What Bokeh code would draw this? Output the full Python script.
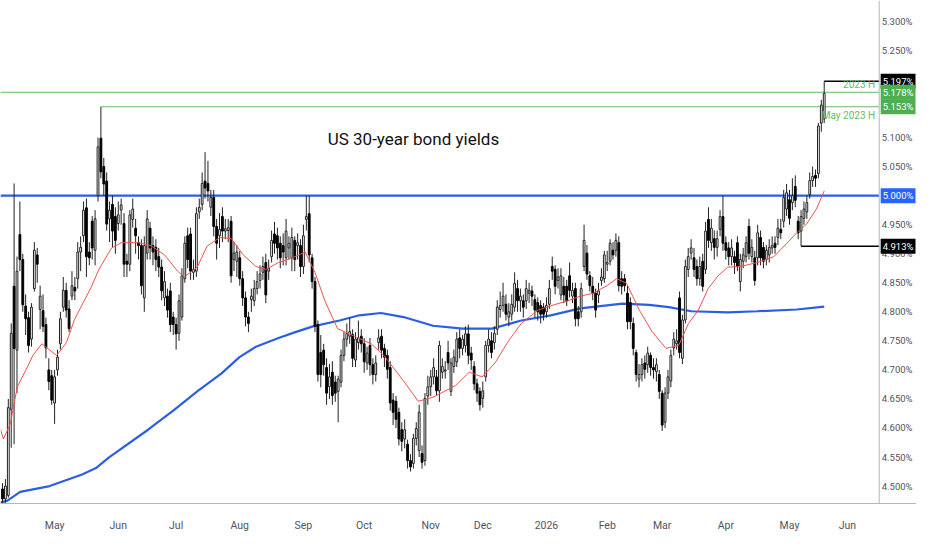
from bokeh.plotting import figure
from bokeh.models import Range1d, FixedTicker, Label, Span, ColumnDataSource
from bokeh.core.properties import value
from bokeh.embed import file_html
from bokeh.resources import INLINE

# ---------------- data (daily candles, % yield) ----------------
opens = [4.495,4.478,4.484,4.632,4.844,4.734,4.933,4.890,4.810,4.790,4.753,4.840,4.898,4.804,4.802,4.778,4.700,4.690,4.643,4.700,
4.745,4.808,4.837,4.805,4.827,4.842,4.857,4.903,4.931,4.979,4.903,4.956,4.906,5.000,5.099,5.050,5.025,4.960,4.985,4.964,
4.952,4.975,4.952,4.887,4.882,4.959,4.944,4.919,4.914,4.824,4.901,4.944,4.914,4.911,4.895,4.877,4.824,4.827,4.836,4.791,
4.778,4.763,4.791,4.857,4.931,4.934,4.868,4.870,4.972,4.985,5.025,5.021,4.980,4.997,4.947,4.931,4.964,4.939,4.940,4.956,
4.890,4.887,4.893,4.857,4.824,4.791,4.821,4.819,4.840,4.854,4.868,4.885,4.870,4.895,4.934,4.931,4.918,4.914,4.893,4.910,
4.893,4.923,4.914,4.914,4.878,4.959,4.969,4.893,4.852,4.778,4.730,4.734,4.704,4.671,4.696,4.679,4.663,4.679,4.725,4.753,
4.758,4.761,4.717,4.747,4.758,4.745,4.712,4.742,4.709,4.692,4.747,4.758,4.737,4.725,4.704,4.648,4.646,4.627,4.597,4.581,
4.572,4.544,4.539,4.582,4.561,4.556,4.544,4.655,4.671,4.688,4.688,4.664,4.696,4.698,4.730,4.663,4.706,4.714,4.755,4.737,
4.742,4.762,4.729,4.706,4.676,4.663,4.651,4.688,4.742,4.750,4.747,4.770,4.804,4.811,4.813,4.791,4.796,4.808,4.840,4.819,
4.819,4.819,4.832,4.836,4.821,4.816,4.811,4.808,4.800,4.813,4.878,4.873,4.854,4.829,4.844,4.844,4.862,4.827,4.840,4.800,
4.800,4.878,4.901,4.862,4.844,4.832,4.829,4.854,4.857,4.882,4.887,4.906,4.906,4.919,4.857,4.857,4.832,4.816,4.780,4.730,
4.684,4.692,4.712,4.709,4.725,4.704,4.697,4.692,4.660,4.610,4.660,4.681,4.738,4.745,4.824,4.720,4.786,4.873,4.901,4.893,
4.878,4.857,4.887,4.873,4.959,4.919,4.926,4.911,4.942,4.964,4.919,4.910,4.895,4.895,4.919,4.852,4.887,4.895,4.947,4.895,
4.893,4.893,4.928,4.911,4.890,4.898,4.910,4.918,4.928,4.942,4.956,4.977,4.993,4.988,5.016,4.956,4.939,4.961,4.972,5.002,
5.026,5.035,5.038,5.125,5.132]
highs = [4.505,4.512,4.650,4.780,5.021,4.895,4.990,4.900,4.830,4.800,4.815,4.920,4.910,4.845,4.830,4.790,4.720,4.700,4.700,4.735,
4.800,4.860,4.850,4.820,4.870,4.860,4.920,4.930,4.990,4.995,4.920,4.965,4.975,5.100,5.153,5.065,5.040,4.990,5.000,4.980,
4.990,4.995,4.970,4.900,4.975,4.995,4.960,4.930,4.925,4.930,4.975,4.955,4.930,4.925,4.910,4.890,4.870,4.840,4.850,4.800,
4.790,4.830,4.875,4.930,4.945,4.945,4.890,4.980,4.995,5.040,5.075,5.060,5.010,5.010,4.960,4.970,4.980,4.960,4.960,4.965,
4.920,4.915,4.905,4.870,4.835,4.800,4.840,4.855,4.870,4.880,4.895,4.900,4.890,4.940,4.955,4.945,4.930,4.935,4.960,4.930,
4.945,4.930,4.935,4.925,4.950,5.000,5.000,4.900,4.860,4.785,4.760,4.745,4.720,4.710,4.715,4.690,4.690,4.735,4.765,4.780,
4.790,4.770,4.765,4.785,4.770,4.755,4.740,4.755,4.720,4.725,4.770,4.770,4.745,4.735,4.715,4.660,4.655,4.635,4.610,4.615,
4.580,4.555,4.590,4.610,4.640,4.570,4.660,4.690,4.700,4.720,4.700,4.750,4.720,4.715,4.750,4.720,4.735,4.765,4.770,4.760,
4.775,4.778,4.740,4.715,4.685,4.670,4.680,4.750,4.770,4.765,4.775,4.820,4.835,4.850,4.830,4.815,4.830,4.868,4.855,4.840,
4.830,4.855,4.850,4.845,4.830,4.825,4.820,4.815,4.825,4.855,4.895,4.880,4.875,4.875,4.860,4.855,4.885,4.850,4.850,4.810,
4.850,4.950,4.915,4.870,4.860,4.840,4.850,4.875,4.905,4.905,4.925,4.920,4.935,4.930,4.870,4.865,4.845,4.825,4.790,4.735,
4.710,4.720,4.725,4.740,4.730,4.720,4.720,4.700,4.665,4.670,4.700,4.735,4.765,4.770,4.835,4.795,4.890,4.910,4.925,4.910,
4.890,4.895,4.900,4.955,4.980,4.960,4.940,4.940,4.975,5.000,4.930,4.920,4.925,4.905,4.930,4.900,4.910,4.930,4.960,4.925,
4.905,4.950,4.940,4.920,4.915,4.925,4.930,4.930,4.960,4.960,5.010,5.020,5.010,5.030,5.035,4.965,4.975,4.990,5.000,5.040,
5.050,5.045,5.125,5.165,5.197]
lows = [4.470,4.471,4.480,4.566,4.572,4.660,4.870,4.800,4.760,4.730,4.740,4.835,4.850,4.770,4.765,4.720,4.665,4.640,4.607,4.690,
4.735,4.800,4.790,4.765,4.820,4.820,4.840,4.870,4.920,4.860,4.880,4.890,4.880,4.990,5.030,5.000,4.940,4.920,4.910,4.900,
4.940,4.950,4.860,4.860,4.870,4.945,4.900,4.890,4.830,4.800,4.890,4.890,4.880,4.870,4.860,4.820,4.810,4.790,4.765,4.760,
4.735,4.750,4.785,4.850,4.875,4.855,4.855,4.860,4.960,4.975,4.995,4.990,4.965,4.930,4.890,4.910,4.920,4.925,4.920,4.850,
4.870,4.860,4.845,4.810,4.775,4.765,4.800,4.810,4.830,4.840,4.855,4.815,4.855,4.885,4.900,4.890,4.875,4.880,4.880,4.890,
4.870,4.870,4.890,4.860,4.865,4.940,4.885,4.840,4.765,4.680,4.670,4.690,4.640,4.650,4.640,4.645,4.610,4.670,4.715,4.740,
4.745,4.705,4.705,4.735,4.730,4.695,4.700,4.690,4.675,4.680,4.735,4.720,4.705,4.685,4.630,4.605,4.600,4.570,4.560,4.565,
4.530,4.525,4.530,4.570,4.550,4.530,4.535,4.640,4.655,4.675,4.655,4.645,4.685,4.685,4.700,4.655,4.695,4.705,4.720,4.725,
4.730,4.710,4.700,4.665,4.645,4.630,4.635,4.680,4.730,4.720,4.735,4.760,4.790,4.800,4.785,4.775,4.785,4.800,4.800,4.800,
4.790,4.805,4.815,4.810,4.790,4.785,4.780,4.785,4.790,4.805,4.855,4.830,4.840,4.820,4.815,4.810,4.825,4.815,4.775,4.775,
4.790,4.870,4.855,4.835,4.820,4.790,4.815,4.845,4.850,4.870,4.880,4.890,4.895,4.835,4.830,4.835,4.770,4.770,4.725,4.680,
4.670,4.680,4.685,4.695,4.690,4.685,4.680,4.650,4.595,4.600,4.650,4.670,4.725,4.735,4.720,4.710,4.780,4.860,4.890,4.860,
4.845,4.845,4.835,4.865,4.910,4.905,4.890,4.895,4.930,4.905,4.890,4.880,4.880,4.865,4.870,4.835,4.875,4.885,4.890,4.885,
4.845,4.880,4.880,4.875,4.880,4.885,4.900,4.900,4.915,4.925,4.945,4.965,4.950,4.975,4.980,4.925,4.913,4.950,4.960,4.995,
5.015,5.015,5.030,5.110,5.125]
closes = [4.478,4.500,4.635,4.763,4.737,4.870,4.890,4.812,4.788,4.742,4.808,4.906,4.882,4.827,4.775,4.738,4.680,4.648,4.688,4.722,
4.788,4.837,4.803,4.771,4.845,4.836,4.903,4.911,4.975,4.895,4.893,4.910,4.960,5.084,5.041,5.020,4.951,4.975,4.939,4.923,
4.967,4.984,4.882,4.882,4.967,4.977,4.931,4.914,4.845,4.914,4.960,4.910,4.903,4.890,4.877,4.836,4.852,4.803,4.778,4.778,
4.762,4.819,4.862,4.918,4.890,4.870,4.873,4.969,4.980,5.021,5.013,5.008,4.997,4.947,4.918,4.942,4.939,4.943,4.945,4.862,
4.901,4.903,4.857,4.824,4.791,4.780,4.827,4.840,4.852,4.865,4.878,4.829,4.875,4.923,4.918,4.910,4.893,4.903,4.939,4.918,
4.928,4.890,4.919,4.878,4.931,4.964,4.898,4.852,4.775,4.692,4.692,4.709,4.660,4.688,4.656,4.660,4.684,4.725,4.753,4.763,
4.766,4.720,4.753,4.755,4.745,4.714,4.729,4.709,4.692,4.712,4.755,4.734,4.722,4.701,4.643,4.627,4.615,4.581,4.577,4.597,
4.544,4.533,4.582,4.599,4.627,4.541,4.651,4.671,4.688,4.704,4.664,4.742,4.706,4.700,4.712,4.712,4.722,4.753,4.737,4.753,
4.762,4.725,4.717,4.676,4.660,4.640,4.664,4.742,4.753,4.730,4.763,4.808,4.811,4.827,4.796,4.800,4.813,4.849,4.819,4.827,
4.808,4.840,4.837,4.827,4.803,4.800,4.796,4.796,4.811,4.840,4.870,4.844,4.860,4.862,4.829,4.819,4.837,4.837,4.788,4.788,
4.840,4.923,4.865,4.845,4.832,4.803,4.836,4.860,4.898,4.885,4.918,4.898,4.923,4.845,4.844,4.845,4.783,4.783,4.737,4.692,
4.692,4.709,4.701,4.729,4.704,4.700,4.709,4.663,4.605,4.660,4.688,4.725,4.753,4.750,4.730,4.786,4.878,4.895,4.910,4.873,
4.857,4.878,4.844,4.939,4.923,4.944,4.911,4.926,4.964,4.918,4.906,4.895,4.910,4.885,4.878,4.890,4.898,4.919,4.901,4.911,
4.854,4.936,4.893,4.887,4.906,4.911,4.914,4.911,4.944,4.936,4.997,5.005,4.961,5.000,4.992,4.936,4.964,4.977,4.988,5.026,
5.033,5.030,5.120,5.156,5.176]

# moving averages (bar index, yield)
ma_fast_x = [-0.7,0.3,2.7,5.1,8.5,10.5,13.6,15.6,18.7,22.1,24.8,27.5,30.9,33.3,37.7,41.1,46.9,51.3,56.0,60.5,62.8,67.3,70.7,75.1,79.1,
83.2,87.6,91.0,95.4,100.2,104.6,108.0,111.4,115.8,121.6,127.4,131.8,138.6,143.7,148.8,156.6,161.3,165.8,170.2,174.9,179.3,185.1,
190.6,195.3,199.7,204.1,208.9,212.3,215.7,220.1,224.5,229.3,233.7,237.1,240.5,243.9,247.3,250.7,255.1,260.9,266.6,271.1,274.5,
277.9,281.3,284.0]
ma_fast_y = [4.597,4.581,4.607,4.671,4.704,4.725,4.745,4.737,4.725,4.747,4.786,4.812,4.845,4.873,4.910,4.919,4.919,4.914,4.898,4.870,
4.860,4.877,4.913,4.928,4.926,4.898,4.878,4.873,4.885,4.893,4.903,4.868,4.819,4.771,4.758,4.745,4.725,4.681,4.646,4.653,4.673,
4.696,4.688,4.712,4.750,4.780,4.803,4.812,4.819,4.827,4.832,4.845,4.857,4.849,4.803,4.766,4.737,4.742,4.780,4.803,4.840,4.862,
4.877,4.878,4.885,4.895,4.918,4.936,4.951,4.977,5.008]
ma_slow_x = [-0.7,1.7,6.1,16.3,27.5,32.3,36.7,50.3,59.0,67.3,75.7,81.9,87.6,95.4,101.2,107.3,116.5,123.3,130.8,138.6,148.8,159.0,
169.2,179.3,189.5,199.7,214.3,223.5,230.3,238.1,250.7,260.9,274.5,284.0]
ma_slow_y = [4.472,4.475,4.490,4.500,4.520,4.531,4.549,4.597,4.630,4.663,4.694,4.722,4.740,4.755,4.765,4.775,4.785,4.794,4.798,4.791,
4.776,4.771,4.771,4.785,4.794,4.806,4.814,4.812,4.808,4.801,4.799,4.801,4.804,4.809]

y_ticks = [4.50,4.55,4.60,4.65,4.70,4.75,4.80,4.85,4.90,4.95,5.00,5.05,5.10,5.15,5.20,5.25,5.30]
month_ticks = [18,40,60,82,104,125,148,166,188,209,228,250,272,292]
month_labels = ["May","Jun","Jul","Aug","Sep","Oct","Nov","Dec","2026","Feb","Mar","Apr","May","Jun"]

resistance = 5.000          # key level
high_2023 = 5.178           # "2023 H"
high_may = 5.153            # "May 2023 H"
high_may_bar = 34
recent_high = 5.197
recent_high_bar = 284
recent_low = 4.913
recent_low_bar = 276

# ---------------- figure ----------------
X0, X_AXIS, X_END = -0.7, 303.0, 315.9      # price scale sits right of X_AXIS
X_LABEL = 309.2
p = figure(width=916, height=534, output_backend="svg", toolbar_location=None,
           x_range=Range1d(X0, X_END), y_range=Range1d(4.470, 5.336),
           y_axis_location=None, min_border_left=0, min_border_top=0,
           min_border_right=0, min_border_bottom=0, background_fill_color="white",
           border_fill_color="white")
p.outline_line_color = None
p.xgrid.visible = False
p.ygrid.visible = False

FONT = "Roboto"
AX_COL = "#b2b5be"
TXT_COL = "#50535e"

p.xaxis.ticker = FixedTicker(ticks=month_ticks)
p.xaxis.major_label_overrides = {t: l for t, l in zip(month_ticks, month_labels)}
p.xaxis.major_tick_line_color = None
p.xaxis.minor_tick_line_color = None
p.xaxis.axis_line_color = AX_COL
p.xaxis.major_label_text_color = TXT_COL
p.xaxis.major_label_text_font = FONT
p.xaxis.major_label_text_font_size = "10.5px"
p.xaxis.major_label_standoff = 9

# price scale: divider line and tick labels
p.add_layout(Span(location=X_AXIS, dimension="height", line_color=AX_COL, line_width=1))
p.text(x=[X_LABEL] * len(y_ticks), y=y_ticks, text=[f"{t:.3f}%" for t in y_ticks],
       text_align="center", text_baseline="middle", text_font=value(FONT),
       text_font_size="9.5px", text_color=TXT_COL)

# slow moving average
p.line(ma_slow_x, ma_slow_y, line_color="#2b5fe3", line_width=2.2)

# horizontal levels
p.segment(x0=[X0], y0=[resistance], x1=[X_AXIS], y1=[resistance], line_color="#2b5fe3", line_width=2.2)
p.segment(x0=[X0], y0=[high_2023], x1=[X_AXIS], y1=[high_2023], line_color="#66bb6a", line_width=1)
p.segment(x0=[high_may_bar], y0=[high_may], x1=[X_AXIS], y1=[high_may], line_color="#66bb6a", line_width=1)
p.segment(x0=[recent_high_bar], y0=[recent_high], x1=[X_AXIS], y1=[recent_high], line_color="black", line_width=1.5)
p.segment(x0=[recent_low_bar], y0=[recent_low], x1=[X_AXIS], y1=[recent_low], line_color="black", line_width=1.5)

# candles
idx = list(range(len(closes)))
up = ColumnDataSource(dict(
    x=[i for i in idx if closes[i] >= opens[i]],
    top=[closes[i] for i in idx if closes[i] >= opens[i]],
    bot=[opens[i] for i in idx if closes[i] >= opens[i]]))
dn = ColumnDataSource(dict(
    x=[i for i in idx if closes[i] < opens[i]],
    top=[opens[i] for i in idx if closes[i] < opens[i]],
    bot=[closes[i] for i in idx if closes[i] < opens[i]]))
p.segment(x0=idx, y0=highs, x1=idx, y1=lows, line_color="#222222", line_width=1)
p.vbar(x="x", width=0.62, top="top", bottom="bot", source=up, fill_color="white", line_color="#222222", line_width=1)
p.vbar(x="x", width=0.62, top="top", bottom="bot", source=dn, fill_color="black", line_color="black", line_width=1)

# fast moving average
p.line(ma_fast_x, ma_fast_y, line_color="#ef5350", line_width=1)

# texts
p.add_layout(Label(x=112.4, y=5.097, text="US 30-year bond yields", text_font=FONT,
                   text_font_size="17px", text_color="#111111", text_baseline="middle"))
p.add_layout(Label(x=301.6, y=high_2023, y_offset=2, text="2023 H", text_font=FONT,
                   text_font_size="10px", text_color="#66bb6a", text_align="right", text_baseline="bottom"))
p.add_layout(Label(x=301.6, y=high_may, y_offset=-3, text="May 2023 H", text_font=FONT,
                   text_font_size="10px", text_color="#66bb6a", text_align="right", text_baseline="top"))

# price tags on the right scale
for val, col in [(recent_high, "black"), (high_2023, "#4caf50"), (high_may, "#4caf50"),
                 (resistance, "#2962ff"), (recent_low, "black")]:
    p.add_layout(Label(x=X_AXIS, y=val, x_offset=1.5, text=f"{val:.3f}%", text_font=FONT,
                       text_font_size="9.5px", text_color="white", text_align="left",
                       text_baseline="middle", background_fill_color=col, padding=2))

open("out.html", "w").write(file_html(p, INLINE))
